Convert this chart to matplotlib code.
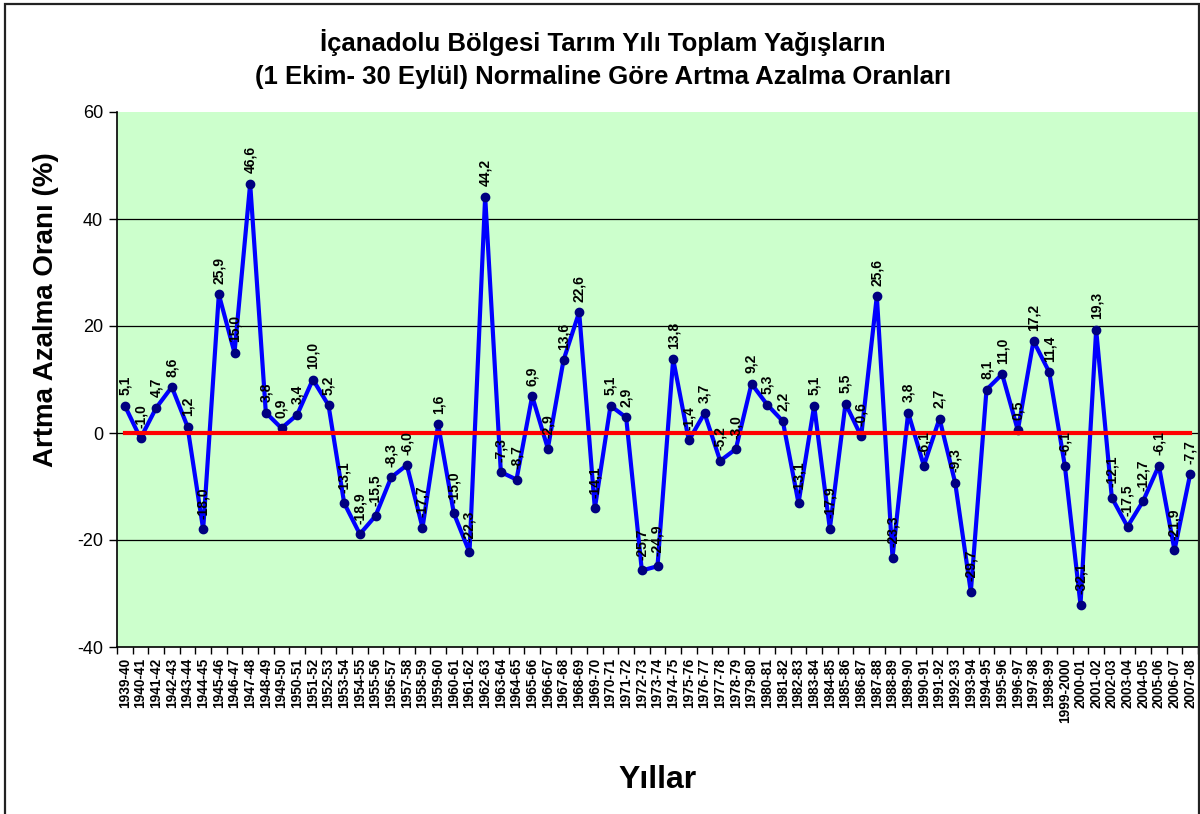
import matplotlib
matplotlib.use("Agg")
import matplotlib.pyplot as plt
from matplotlib.patches import Rectangle

plt.rcParams['font.family'] = ['Liberation Sans', 'DejaVu Sans']

years = ["1939-40","1940-41","1941-42","1942-43","1943-44","1944-45","1945-46","1946-47",
         "1947-48","1948-49","1949-50","1950-51","1951-52","1952-53","1953-54","1954-55",
         "1955-56","1956-57","1957-58","1958-59","1959-60","1960-61","1961-62","1962-63",
         "1963-64","1964-65","1965-66","1966-67","1967-68","1968-69","1969-70","1970-71",
         "1971-72","1972-73","1973-74","1974-75","1975-76","1976-77","1977-78","1978-79",
         "1979-80","1980-81","1981-82","1982-83","1983-84","1984-85","1985-86","1986-87",
         "1987-88","1988-89","1989-90","1990-91","1991-92","1992-93","1993-94","1994-95",
         "1995-96","1996-97","1997-98","1998-99","1999-2000","2000-01","2001-02","2002-03",
         "2003-04","2004-05","2005-06","2006-07","2007-08"]

values = [5.1, -1.0, 4.7, 8.6, 1.2, -18.0, 25.9, 15.0, 46.6, 3.8, 0.9, 3.4, 10.0, 5.2,
          -13.1, -18.9, -15.5, -8.3, -6.0, -17.7, 1.6, -15.0, -22.3, 44.2, -7.3, -8.7,
          6.9, -2.9, 13.6, 22.6, -14.1, 5.1, 2.9, -25.7, -24.9, 13.8, -1.4, 3.7, -5.2,
          -3.0, 9.2, 5.3, 2.2, -13.1, 5.1, -17.9, 5.5, -0.6, 25.6, -23.3, 3.8, -6.1,
          2.7, -9.3, -29.7, 8.1, 11.0, 0.5, 17.2, 11.4, -6.1, -32.1, 19.3, -12.1,
          -17.5, -12.7, -6.1, -21.9, -7.7]

normal = [0.0] * len(years)

title = "İçanadolu Bölgesi Tarım Yılı Toplam Yağışların\n(1 Ekim- 30 Eylül) Normaline Göre Artma Azalma Oranları"
ylabel = "Artma Azalma Oranı (%)"
xlabel = "Yıllar"
yticks = [-40, -20, 0, 20, 40, 60]

fig = plt.figure(figsize=(12, 8.14), dpi=100)
ax = fig.add_axes([117/1200, 1 - 647/814, (1198-117)/1200, (647-112)/814])
ax.set_facecolor('#CCFFCC')

x = list(range(len(years)))
ax.set_xlim(-0.5, len(years) - 0.5)
ax.set_ylim(-40, 60)
ax.set_yticks(yticks)
ax.set_yticklabels([str(t) for t in yticks], fontsize=13)
for t in yticks[1:-1]:
    ax.axhline(t, color='black', lw=0.9, zorder=1)

ax.plot(x, values, color='#0000FF', lw=3, marker='o', markersize=6,
        markerfacecolor='#000080', markeredgecolor='#000080', zorder=3)
ax.plot(x, normal, color='#FF0000', lw=3, zorder=4)

for xi, v in zip(x, values):
    ax.annotate(f"{v:.1f}".replace('.', ','), (xi, v), xytext=(0, 7.5),
                textcoords='offset points', rotation=90, ha='center', va='bottom',
                fontsize=10, fontweight='bold', zorder=5)

ax.set_xticks([i - 0.5 for i in range(len(years) + 1)])
ax.set_xticklabels([])
ax.set_xticks(x, minor=True)
ax.set_xticklabels(years, minor=True, rotation=90, fontsize=9.8, fontweight='bold')
ax.tick_params(axis='x', which='minor', length=0, pad=8)
ax.tick_params(axis='x', which='major', length=5, width=1, direction='out')
ax.tick_params(axis='y', length=6, width=1, direction='out', pad=4)

for s in ['top', 'right']:
    ax.spines[s].set_visible(False)
ax.spines['left'].set_linewidth(1.2)
ax.spines['bottom'].set_linewidth(1.2)

fig.text(603/1200, 1 - 59/814, title, ha='center', va='center', fontsize=18.5,
         fontweight='bold', linespacing=1.45)
fig.text(46/1200, 1 - 310/814, ylabel, ha='center', va='center', rotation=90,
         fontsize=20, fontweight='bold')
fig.text(658/1200, 1 - 780/814, xlabel, ha='center', va='center', fontsize=23,
         fontweight='bold')

fig.patches.append(Rectangle((5/1200, -0.02), 1194/1200, 1.02 - 4/814,
                             transform=fig.transFigure, fill=False,
                             edgecolor='#222222', lw=1.6))

fig.savefig('out.png', dpi=100)
